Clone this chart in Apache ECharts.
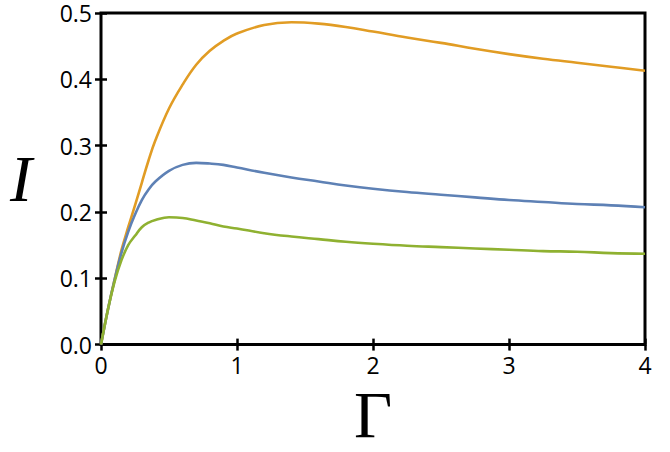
<!DOCTYPE html>
<html>
<head>
<meta charset="utf-8">
<script src="https://cdn.jsdelivr.net/npm/echarts@6/dist/echarts.min.js"></script>
<style>
html,body{margin:0;padding:0;background:#fff;}
#chart{width:670px;height:452px;}
</style>
</head>
<body>
<div id="chart"></div>
<script>
const gammaValues = [0,0.05,0.1,0.15,0.2,0.25,0.3,0.35,0.4,0.5,0.6,0.7,0.8,0.9,1.0,1.2,1.4,1.6,1.8,2.0,2.25,2.5,2.75,3.0,3.25,3.5,3.75,4.0];
const orangeValues = [0,0.052,0.098,0.142,0.177,0.210,0.244,0.278,0.308,0.356,0.392,0.422,0.443,0.458,0.469,0.482,0.486,0.484,0.479,0.472,0.463,0.455,0.446,0.438,0.431,0.425,0.419,0.413];
const blueValues = [0,0.052,0.098,0.138,0.170,0.196,0.218,0.234,0.246,0.262,0.271,0.274,0.273,0.271,0.267,0.259,0.252,0.246,0.240,0.235,0.230,0.226,0.222,0.218,0.215,0.212,0.210,0.207];
const greenValues = [0,0.052,0.095,0.127,0.150,0.164,0.177,0.184,0.188,0.192,0.191,0.187,0.183,0.178,0.175,0.168,0.163,0.159,0.155,0.152,0.149,0.147,0.145,0.143,0.141,0.140,0.138,0.137];
const xTicks = [0,1,2,3,4];
const yTicks = [0.0,0.1,0.2,0.3,0.4,0.5];

const pairs = vals => gammaValues.map((g,i)=>[g, vals[i]]);
const labelFont = {color:'#000', fontFamily:'Open Sans', fontSize:23, lineHeight:20};
const tickStyle = {show:true, inside:true, length:6, lineStyle:{color:'#000', width:2.5}};

const chart = echarts.init(document.getElementById('chart'), null, {renderer:'svg'});
chart.setOption({
  animation:false,
  grid:{left:101, right:25, top:13, bottom:103, show:true, borderColor:'#000', borderWidth:3, backgroundColor:'transparent'},
  xAxis:[
    {type:'value', min:xTicks[0], max:xTicks[xTicks.length-1], interval:1, position:'bottom',
     axisLine:{show:false}, axisTick:tickStyle, splitLine:{show:false},
     axisLabel:Object.assign({margin:10, formatter:v=>String(v)}, labelFont),
     name:'Γ', nameLocation:'middle', nameGap:33,
     nameTextStyle:{fontFamily:'Liberation Serif', fontSize:66, color:'#000'}},
    {type:'value', min:xTicks[0], max:xTicks[xTicks.length-1], interval:1, position:'top',
     axisLine:{show:false}, axisTick:tickStyle, splitLine:{show:false}, axisLabel:{show:false}}
  ],
  yAxis:[
    {type:'value', min:yTicks[0], max:yTicks[yTicks.length-1], interval:0.1, position:'left',
     axisLine:{show:false}, axisTick:tickStyle, splitLine:{show:false},
     axisLabel:Object.assign({margin:9, formatter:v=>v.toFixed(1)}, labelFont),
     name:'I', nameLocation:'middle', nameGap:69, nameRotate:0,
     nameTextStyle:{fontFamily:'Liberation Serif', fontStyle:'italic', fontSize:66, color:'#000'}},
    {type:'value', min:yTicks[0], max:yTicks[yTicks.length-1], interval:0.1, position:'right',
     axisLine:{show:false}, axisTick:tickStyle, splitLine:{show:false}, axisLabel:{show:false}}
  ],
  series:[
    {type:'line', data:pairs(orangeValues), smooth:0.4, showSymbol:false, lineStyle:{color:'#E19C24', width:2.6}, z:3},
    {type:'line', data:pairs(blueValues), smooth:0.4, showSymbol:false, lineStyle:{color:'#5E81B5', width:2.6}, z:4},
    {type:'line', data:pairs(greenValues), smooth:0.4, showSymbol:false, lineStyle:{color:'#8FB131', width:2.6}, z:5}
  ]
});
</script>
</body>
</html>
